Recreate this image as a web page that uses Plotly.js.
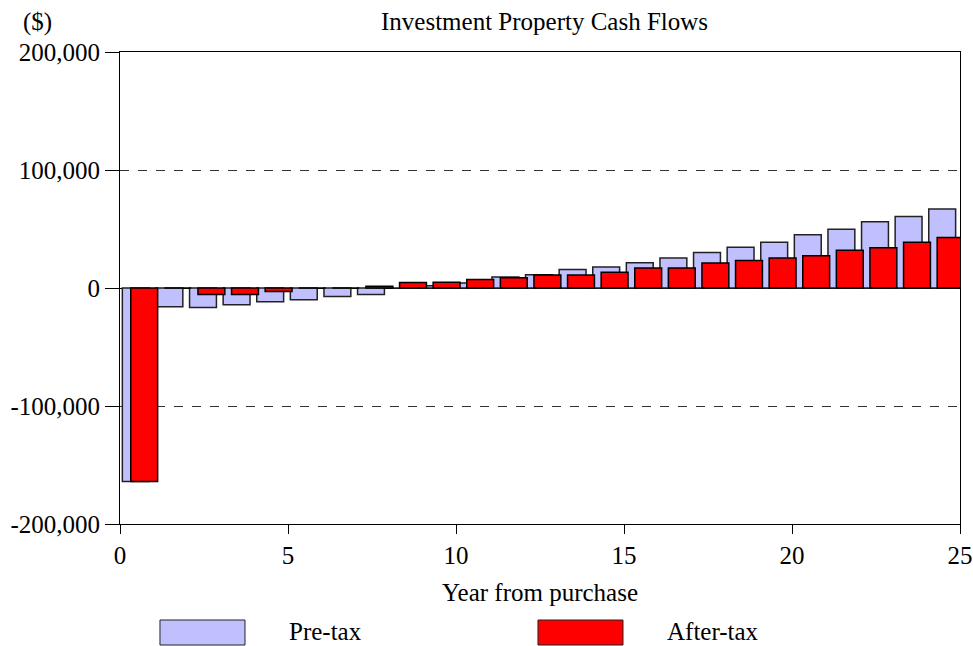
<!DOCTYPE html>
<html>
<head>
<meta charset="utf-8">
<script src="https://cdn.plot.ly/plotly-3.0.1.min.js"></script>
<style>
  html, body { margin: 0; padding: 0; background: #ffffff; }
  #chart { width: 973px; height: 646px; }
</style>
</head>
<body>
<div id="chart"></div>
<script>
// ---- Data ----
const years = [0, 1, 2, 3, 4, 5, 6, 7, 8, 9, 10, 11, 12, 13, 14, 15, 16, 17, 18, 19, 20, 21, 22, 23, 24];
const preTax = [-164000, -15900, -16500, -14200, -11700, -10000, -7200, -5500, 0, 2000,
                4200, 9300, 11300, 15600, 17800, 21500, 25400, 30000, 34500, 38700,
                45200, 49700, 56200, 60500, 66900];
const afterTax = [-164000, 0, -5500, -5500, -3000, 0, 0, 1500, 4700, 4800,
                  7100, 8700, 11000, 11000, 13300, 17000, 17000, 21200, 23200, 25400,
                  27400, 31900, 34200, 38700, 42900];
const seriesNames = ['Pre-tax', 'After-tax'];
const yTickVals = [-200000, -100000, 0, 100000, 200000];
const yTickText = ['-200,000', '-100,000', '0', '100,000', '200,000'];
const xTickVals = [0, 5, 10, 15, 20, 25];
const chartTitle = 'Investment Property Cash Flows';
const unitLabel = '($)';
const xTitle = 'Year from purchase';

// ---- Styles ----
const FONT = 'Liberation Serif, Times New Roman, serif';
const FS = 25;
const preColor = '#C0C0FF';
const afterColor = '#FF0000';

const traces = [
  {
    type: 'bar', name: seriesNames[0], x: years, y: preTax,
    offset: 0.07, width: 0.8,
    marker: { color: preColor, line: { color: '#222222', width: 1.5 } },
    showlegend: false, hoverinfo: 'x+y'
  },
  {
    type: 'bar', name: seriesNames[1], x: years, y: afterTax,
    offset: 0.32, width: 0.8,
    marker: { color: afterColor, line: { color: '#000000', width: 1.5 } },
    showlegend: false, hoverinfo: 'x+y'
  }
];

// legend drawn in paper coordinates below the plot
const legendY0 = -0.2564, legendY1 = -0.2034, legendYc = -0.2288;
const layout = {
  width: 973, height: 646,
  margin: { l: 120, r: 13, t: 52, b: 122, pad: 0 },
  paper_bgcolor: '#ffffff', plot_bgcolor: '#ffffff',
  font: { family: FONT, size: FS, color: '#000000' },
  barmode: 'overlay',
  showlegend: false,
  xaxis: {
    range: [0, 25], tickvals: xTickVals, ticks: 'outside', ticklen: 9, tickwidth: 1, tickcolor: '#000',
    showline: true, mirror: true, linecolor: '#000', linewidth: 1,
    showgrid: false, zeroline: false,
    tickfont: { family: FONT, size: FS, color: '#000' },
    title: { text: xTitle, font: { family: FONT, size: FS, color: '#000' }, standoff: 15 }
  },
  yaxis: {
    range: [-200000, 200000], tickvals: yTickVals, ticktext: yTickText,
    ticks: 'outside', ticklen: 14, tickwidth: 1, tickcolor: '#000',
    showline: true, mirror: true, linecolor: '#000', linewidth: 1,
    showgrid: true, gridcolor: '#333333', gridwidth: 1, griddash: 'dash',
    zeroline: true, zerolinecolor: '#000', zerolinewidth: 1,
    tickfont: { family: FONT, size: FS, color: '#000' }
  },
  shapes: [
    { type: 'rect', xref: 'paper', yref: 'paper', x0: 0.0476, x1: 0.1488, y0: legendY0, y1: legendY1,
      fillcolor: preColor, line: { color: '#222', width: 1 } },
    { type: 'rect', xref: 'paper', yref: 'paper', x0: 0.4976, x1: 0.5988, y0: legendY0, y1: legendY1,
      fillcolor: afterColor, line: { color: '#222', width: 1 } }
  ],
  annotations: [
    { text: chartTitle, xref: 'paper', yref: 'paper', x: 0.505, y: 1.0636, xanchor: 'center', yanchor: 'middle',
      showarrow: false, font: { family: FONT, size: FS, color: '#000' } },
    { text: unitLabel, xref: 'paper', yref: 'paper', x: -0.0988, y: 1.0636, xanchor: 'center', yanchor: 'middle',
      showarrow: false, font: { family: FONT, size: FS, color: '#000' } },
    { text: seriesNames[0], xref: 'paper', yref: 'paper', x: 0.1988, y: legendYc, xanchor: 'left', yanchor: 'middle',
      showarrow: false, font: { family: FONT, size: FS, color: '#000' } },
    { text: seriesNames[1], xref: 'paper', yref: 'paper', x: 0.6488, y: legendYc, xanchor: 'left', yanchor: 'middle',
      showarrow: false, font: { family: FONT, size: FS, color: '#000' } }
  ]
};

Plotly.newPlot('chart', traces, layout, { displayModeBar: false, staticPlot: true });
</script>
</body>
</html>
